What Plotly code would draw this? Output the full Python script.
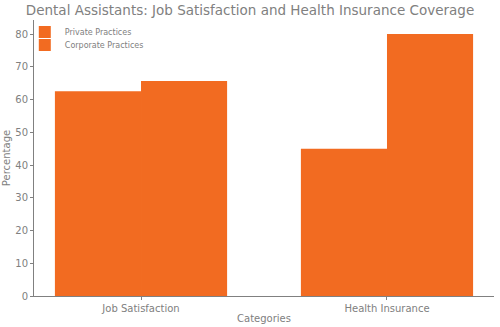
import plotly.graph_objects as go

categories = ["Job Satisfaction", "Health Insurance"]
private_vals = [62.5, 45]
corporate_vals = [65.7, 80]
orange = "#F26B21"
gray = "#808080"

fig = go.Figure()
fig.add_trace(go.Bar(name="Private Practices", x=categories, y=private_vals,
                     marker=dict(color=orange, line=dict(width=0)), legend="legend"))
fig.add_trace(go.Bar(name="Corporate Practices", x=categories, y=corporate_vals,
                     marker=dict(color=orange, line=dict(width=0)), legend="legend2"))

leg_common = dict(xanchor="left", yanchor="middle", bgcolor="rgba(0,0,0,0)",
                  font=dict(size=8, color=gray), itemwidth=30)
fig.update_layout(
    width=500, height=327,
    margin=dict(l=34, r=6, t=20, b=31),
    paper_bgcolor="white", plot_bgcolor="white",
    barmode="group", bargap=0.3, bargroupgap=0,
    font=dict(family="DejaVu Sans", color=gray, size=10),
    title=dict(text="Dental Assistants: Job Satisfaction and Health Insurance Coverage",
               x=0.5, xanchor="center", y=0.982, yanchor="top",
               font=dict(size=13.5, color=gray)),
    legend=dict(x=-0.02, y=(327 - 31 - 32) / 276, **leg_common),
    legend2=dict(x=-0.02, y=(327 - 31 - 45) / 276, **leg_common),
    showlegend=True,
)
fig.update_xaxes(range=[-0.435, 1.435], showline=True, linecolor=gray, linewidth=1,
                 ticks="outside", ticklen=3, tickcolor=gray, showgrid=False,
                 title=dict(text="Categories", font=dict(size=10, color=gray), standoff=1),
                 tickfont=dict(size=10, color=gray))
fig.update_yaxes(range=[0, 84.3], showline=True, linecolor=gray, linewidth=1,
                 ticks="outside", ticklen=3, tickcolor=gray, showgrid=False,
                 tickvals=[0, 10, 20, 30, 40, 50, 60, 70, 80], zeroline=False,
                 title=dict(text="Percentage", font=dict(size=10, color=gray), standoff=2),
                 tickfont=dict(size=10, color=gray))
fig.write_html("out.html")
